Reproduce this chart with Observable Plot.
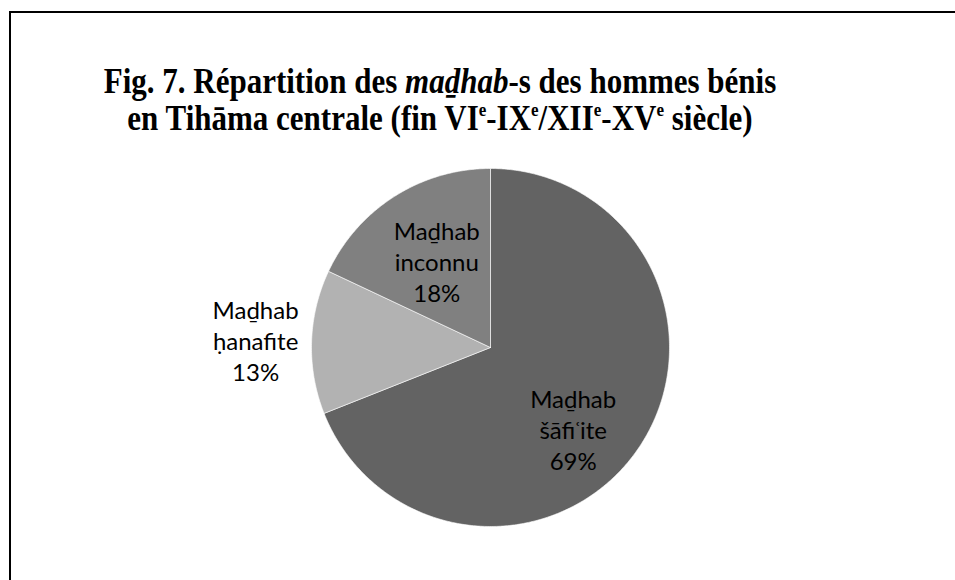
<!DOCTYPE html>
<html>
<head>
<meta charset="utf-8">
<script src="https://cdn.jsdelivr.net/npm/d3@7"></script>
<script src="https://cdn.jsdelivr.net/npm/@observablehq/plot@0.6"></script>
<style>
  html, body { margin: 0; padding: 0; background: #fff; }
  #wrap { position: relative; width: 955px; height: 580px; overflow: hidden; background: #fff; }
  #frame { position: absolute; left: 9px; top: 11px; width: 1000px; height: 1000px;
           border-left: 2px solid #000; border-top: 2px solid #000; box-sizing: border-box; }
  #title { position: absolute; left: 40px; top: 64px; width: 800px; text-align: center;
           font-family: "Liberation Serif", "Times New Roman", serif; font-weight: bold;
           font-size: 31px; line-height: 32px; color: #000;
           transform: scaleY(1.13); transform-origin: 50% 0; }
  #title sup { font-size: 0.55em; vertical-align: 0; position: relative; top: -0.68em; line-height: 0; }
  #chart { position: absolute; left: 0; top: 0; }
</style>
</head>
<body>
<div id="wrap">
  <div id="frame"></div>
  <div id="chart"></div>
  <div id="title">Fig. 7. Répartition des <i>maḏhab</i>-s des hommes bénis<br>en Tihāma centrale (fin VI<sup>e</sup>-IX<sup>e</sup>/XII<sup>e</sup>-XV<sup>e</sup> siècle)</div>
</div>
<script>
// ---- data ----
const categories = ["Maḏhab šāfiʿite", "Maḏhab ḥanafite", "Maḏhab inconnu"];
const values = [69, 13, 18];
const labelLines = [["Maḏhab", "šāfiʿite"], ["Maḏhab", "ḥanafite"], ["Maḏhab", "inconnu"]];
const colors = ["#636363", "#b2b2b2", "#808080"];

// ---- layout (label placement, not data) ----
const labelRadius = [0.66, 1.313, 0.56];
const labelShift = [[-15, 15], [0, 0], [0, -2]];

const arcs = d3.pie().sort(null).value(d => d)(values);
const total = d3.sum(values);

// polygon points for each slice (unit circle, y up, 0 at 12 o'clock, clockwise)
const pts = [];
arcs.forEach((a, i) => {
  const cat = categories[i];
  pts.push({cat, x: 0, y: 0});
  const n = Math.max(2, Math.ceil((a.endAngle - a.startAngle) / 0.01));
  for (let k = 0; k <= n; k++) {
    const t = a.startAngle + (a.endAngle - a.startAngle) * k / n;
    pts.push({cat, x: Math.sin(t), y: Math.cos(t)});
  }
  pts.push({cat, x: 0, y: 0});
});

const labels = arcs.map((a, i) => {
  const m = (a.startAngle + a.endAngle) / 2;
  const r = labelRadius[i];
  return {
    x: Math.sin(m) * r,
    y: Math.cos(m) * r,
    dx: labelShift[i][0],
    dy: labelShift[i][1],
    text: labelLines[i].join("\n") + "\n" + Math.round(values[i] / total * 100) + "%"
  };
});

const chart = Plot.plot({
  width: 955,
  height: 580,
  margin: 0,
  style: {background: "transparent", overflow: "visible"},
  x: {domain: [-1, 1], range: [311, 669], axis: null},
  y: {domain: [-1, 1], range: [526, 168], axis: null},
  color: {domain: categories, range: colors},
  marks: [
    Plot.line(pts, {x: "x", y: "y", z: "cat", fill: "cat", stroke: "#ffffff", strokeWidth: 1, strokeOpacity: 0.6, curve: "linear"}),
    ...labels.map(l => Plot.text([l], {
      x: "x", y: "y", text: "text", dx: l.dx, dy: l.dy,
      fontSize: 24, lineHeight: 1.3, fill: "#000",
      fontFamily: "Lato, 'Open Sans', sans-serif",
      textAnchor: "middle", lineAnchor: "middle"
    }))
  ]
});
document.getElementById("chart").appendChild(chart);
</script>
</body>
</html>
